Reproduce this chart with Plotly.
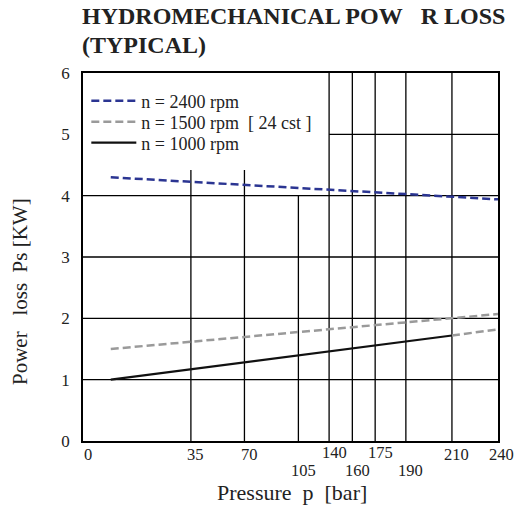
import numpy as np
import plotly.graph_objects as go

# The chart's pressure axis is non-linear: tick pressure -> fraction of axis width
SCALE_P = [0, 35, 70, 105, 140, 160, 175, 190, 210, 240]
SCALE_F = [0.0, 0.260, 0.389, 0.519, 0.593, 0.649, 0.704, 0.778, 0.889, 1.0]

# Series (pressure in bar, power loss in kW)
pressure_2400 = [9, 240]
power_2400 = [4.30, 3.94]
pressure_1500 = [9, 240]
power_1500 = [1.50, 2.07]
pressure_1000 = [9, 210]
power_1000 = [1.00, 1.72]
pressure_1000_ext = [210, 240]
power_1000_ext = [1.72, 1.82]

x_tick_vals = [0, 35, 70, 105, 140, 160, 175, 190, 210, 240]
x_tick_row = [0, 0, 0, 2, 1, 2, 1, 2, 0, 0]  # stagger level of each tick label
y_tick_vals = [0, 1, 2, 3, 4, 5, 6]

# grid segments: (pressure, y from, y to) and (power, pressure from, pressure to)
v_grid = [(35, 0, 4.42), (70, 0, 4.42), (105, 0, 4), (140, 0, 6), (160, 0, 6),
          (175, 0, 6), (190, 0, 6), (210, 0, 6)]
h_grid = [(1, 0, 240), (2, 0, 240), (3, 0, 240), (4, 0, 240), (5, 140, 240)]


def sx(p):
    return np.interp(p, SCALE_P, SCALE_F)


SERIF = "Liberation Serif"
BLUE = "#2b3592"
GRAY = "#9a9a9a"
TXT = "#222222"

fig = go.Figure()
fig.add_trace(go.Scatter(x=sx(pressure_2400), y=power_2400, mode="lines",
                         name="n = 2400 rpm", legend="legend",
                         line=dict(color=BLUE, width=2.5, dash="8px,4px")))
fig.add_trace(go.Scatter(x=sx(pressure_1500), y=power_1500, mode="lines",
                         name="n = 1500 rpm&nbsp;&nbsp;[ 24 cst ]", legend="legend2",
                         line=dict(color=GRAY, width=2.5, dash="8px,4px")))
fig.add_trace(go.Scatter(x=sx(pressure_1000), y=power_1000, mode="lines",
                         name="n = 1000 rpm", legend="legend3",
                         line=dict(color="#111111", width=2.2)))
fig.add_trace(go.Scatter(x=sx(pressure_1000_ext), y=power_1000_ext, mode="lines",
                         showlegend=False,
                         line=dict(color=GRAY, width=2.5, dash="8px,4px")))

shapes = []
for p, y0, y1 in v_grid:
    shapes.append(dict(type="line", xref="x", yref="y", x0=sx(p), x1=sx(p),
                       y0=y0, y1=y1, line=dict(color="black", width=1.3),
                       layer="below"))
for v, p0, p1 in h_grid:
    shapes.append(dict(type="line", xref="x", yref="y", x0=sx(p0), x1=sx(p1),
                       y0=v, y1=v, line=dict(color="black", width=1.3),
                       layer="below"))

annotations = []
row_shift = {0: -13, 1: -11, 2: -29}
for v, r in zip(x_tick_vals, x_tick_row):
    annotations.append(dict(x=sx(v), y=0, xref="x", yref="paper", text=str(v),
                            showarrow=False, xanchor="center", yanchor="middle",
                            xshift=3 if v == 240 else 5, yshift=row_shift[r],
                            font=dict(family=SERIF, size=16.5, color=TXT)))

annotations.append(dict(x=0, y=1, xref="paper", yref="paper",
                        text="<b>HYDROMECHANICAL POW&nbsp;&nbsp;&nbsp;R LOSS</b>",
                        showarrow=False, xanchor="left", yanchor="middle",
                        yshift=57, xshift=-3,
                        font=dict(family=SERIF, size=24, color=TXT)))
annotations.append(dict(x=0, y=1, xref="paper", yref="paper",
                        text="<b>(TYPICAL)</b>",
                        showarrow=False, xanchor="left", yanchor="middle",
                        yshift=28, xshift=-3,
                        font=dict(family=SERIF, size=24, color=TXT)))
annotations.append(dict(x=0.5, y=0, xref="paper", yref="paper",
                        text="Pressure&nbsp;&nbsp;p&nbsp;&nbsp;[bar]",
                        showarrow=False, xanchor="center", yanchor="middle",
                        yshift=-51, xshift=1,
                        font=dict(family=SERIF, size=22, color=TXT)))
annotations.append(dict(x=0, y=0.5, xref="paper", yref="paper",
                        text="Power&nbsp;&nbsp;&nbsp;loss&nbsp;&nbsp;Ps&nbsp;[KW]",
                        showarrow=False, xanchor="center", yanchor="middle",
                        xshift=-63, yshift=-35, textangle=-90,
                        font=dict(family=SERIF, size=21, color=TXT)))

leg_common = dict(x=0.008, xanchor="left", yanchor="middle",
                  bgcolor="rgba(0,0,0,0)", itemwidth=45,
                  font=dict(family=SERIF, size=18, color=TXT))

fig.update_layout(
    width=514, height=505,
    margin=dict(l=83, r=16, t=73, b=64),
    paper_bgcolor="white", plot_bgcolor="white",
    shapes=shapes, annotations=annotations,
    showlegend=True,
    legend=dict(y=0.924, **leg_common),
    legend2=dict(y=0.867, **leg_common),
    legend3=dict(y=0.810, **leg_common),
    xaxis=dict(range=[0, 1], showgrid=False, zeroline=False, showticklabels=False,
               ticks="", showline=True, linecolor="black", linewidth=1.5,
               mirror=True, fixedrange=True),
    yaxis=dict(range=[0, 6], tickvals=y_tick_vals, showgrid=False, zeroline=False,
               ticks="", ticklabelstandoff=8, showline=True, linecolor="black",
               linewidth=1.5, mirror=True, fixedrange=True,
               tickfont=dict(family=SERIF, size=17, color=TXT)),
)

fig.write_html("out.html")
